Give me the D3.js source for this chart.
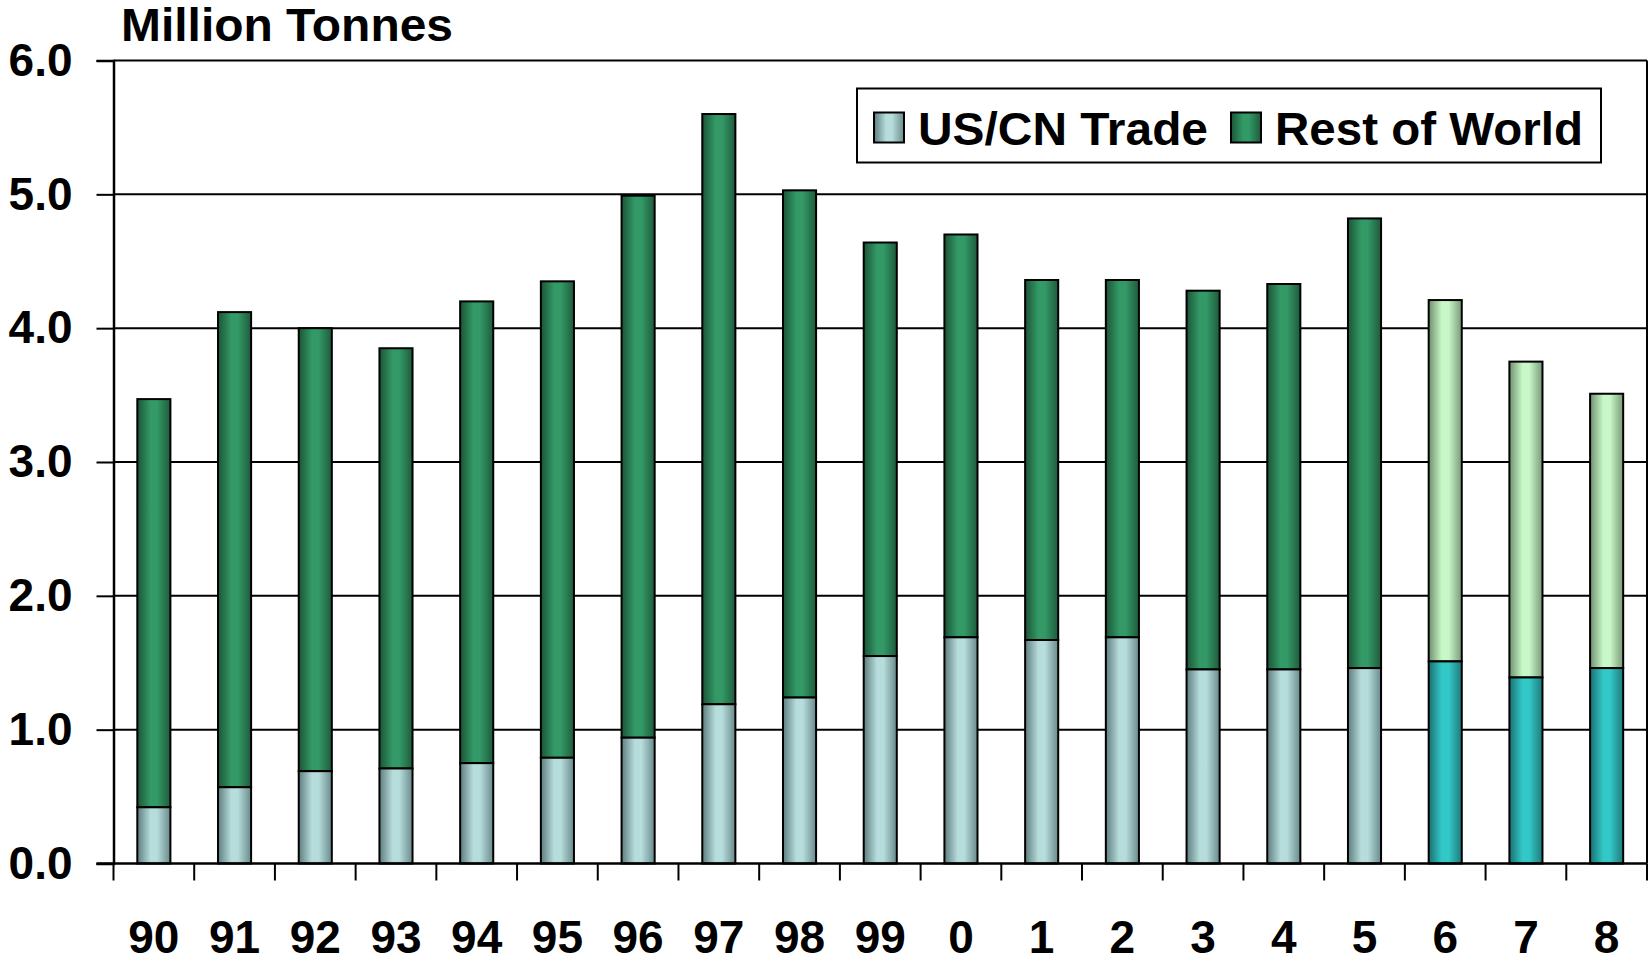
<!DOCTYPE html>
<html>
<head>
<meta charset="utf-8">
<script src="https://cdn.jsdelivr.net/npm/d3@7"></script>
<style>
  body { margin: 0; background: #fff; }
  text { font-family: "Liberation Sans", Arial, sans-serif; font-weight: bold; }
</style>
</head>
<body>
<div id="box"></div>
<script>
  // years on the x axis (two-digit / one-digit labels as in the original)
  var years = ["90", "91", "92", "93", "94", "95", "96", "97", "98", "99",
               "0", "1", "2", "3", "4", "5", "6", "7", "8"];
  var forecastYears = ["6", "7", "8"];

  // million tonnes
  var usCnTrade = [0.42, 0.57, 0.69, 0.71, 0.75, 0.79, 0.94, 1.19, 1.24, 1.55,
                   1.69, 1.67, 1.69, 1.45, 1.45, 1.46, 1.51, 1.39, 1.46];
  var restOfWorld = [3.05, 3.55, 3.31, 3.14, 3.45, 3.56, 4.05, 4.41, 3.79, 3.09,
                     3.01, 2.69, 2.67, 2.83, 2.88, 3.36, 2.70, 2.36, 2.05];

  var seriesNames = ["US/CN Trade", "Rest of World"];
  var yTicks = [0, 1, 2, 3, 4, 5, 6];

  var width = 1648;
  var height = 963;
  var plotL = 113.5, plotR = 1647, plotT = 60.5, plotB = 863.5;

  var svg = d3.select("#box").append("svg")
    .attr("width", width)
    .attr("height", height);

  // gradients, dark edges and light middle like the old office shading
  var shades = {
    usCn:  ["#5f7d7d", "#b6dcdc", "#6a8a8a"],
    row:   ["#1b5436", "#339966", "#1e5a3c"],
    usCnF: ["#1a7070", "#33c8c8", "#1f7a7a"],
    rowF:  ["#6f8f6f", "#c8f8c8", "#7a987a"]
  };
  var defs = svg.append("defs");
  Object.keys(shades).forEach(function(k) {
    var g = defs.append("linearGradient")
      .attr("id", "g_" + k)
      .attr("x1", 0).attr("x2", 1).attr("y1", 0).attr("y2", 0);
    g.append("stop").attr("offset", "0%").attr("stop-color", shades[k][0]);
    g.append("stop").attr("offset", "40%").attr("stop-color", shades[k][1]);
    g.append("stop").attr("offset", "60%").attr("stop-color", shades[k][1]);
    g.append("stop").attr("offset", "100%").attr("stop-color", shades[k][2]);
  });

  var x = d3.scaleBand()
    .domain(years)
    .range([plotL, plotR])
    .paddingInner(0.59)
    .paddingOuter(0.295);

  var y = d3.scaleLinear()
    .domain([0, 6])
    .range([plotB, plotT]);

  // gridlines
  svg.append("g").selectAll("line")
    .data(yTicks.filter(function(d) { return d > 0; }))
    .enter().append("line")
    .attr("x1", plotL).attr("x2", plotR)
    .attr("y1", function(d) { return y(d); })
    .attr("y2", function(d) { return y(d); })
    .attr("stroke", "#000")
    .attr("stroke-width", 2);

  // right border of plot area
  svg.append("line")
    .attr("x1", plotR).attr("x2", plotR)
    .attr("y1", y(6)).attr("y2", y(0))
    .attr("stroke", "#000").attr("stroke-width", 2);

  // bars
  var stack = years.map(function(yr, i) {
    return { year: yr, us: usCnTrade[i], row: restOfWorld[i],
             f: forecastYears.indexOf(yr) >= 0 };
  });

  var bars = svg.append("g").selectAll("g")
    .data(stack)
    .enter().append("g");

  bars.append("rect")
    .attr("x", function(d) { return x(d.year); })
    .attr("width", x.bandwidth())
    .attr("y", function(d) { return y(d.us + d.row); })
    .attr("height", function(d) { return y(d.us) - y(d.us + d.row); })
    .attr("fill", function(d) { return d.f ? "url(#g_rowF)" : "url(#g_row)"; })
    .attr("stroke", "#000")
    .attr("stroke-width", 2);

  bars.append("rect")
    .attr("x", function(d) { return x(d.year); })
    .attr("width", x.bandwidth())
    .attr("y", function(d) { return y(d.us); })
    .attr("height", function(d) { return y(0) - y(d.us); })
    .attr("fill", function(d) { return d.f ? "url(#g_usCnF)" : "url(#g_usCn)"; })
    .attr("stroke", "#000")
    .attr("stroke-width", 2);

  // y axis
  var yAxis = svg.append("g")
    .attr("transform", "translate(" + plotL + ",0)")
    .call(d3.axisLeft(y)
      .tickValues(yTicks)
      .tickFormat(d3.format(".1f"))
      .tickSize(17)
      .tickPadding(24));
  yAxis.select(".domain").attr("stroke-width", 2.5);
  yAxis.selectAll(".tick line").attr("stroke-width", 2);
  yAxis.selectAll("text")
    .attr("font-size", 46)
    .attr("fill", "#000")
    .attr("font-family", "Liberation Sans, Arial, sans-serif")
    .attr("font-weight", "bold");

  // x axis: labels centred in bands, ticks at band edges
  var xAxis = svg.append("g")
    .attr("transform", "translate(0," + plotB + ")")
    .call(d3.axisBottom(x).tickSize(0).tickPadding(57));
  xAxis.select(".domain").remove();
  xAxis.selectAll("text")
    .attr("font-size", 46)
    .attr("fill", "#000")
    .attr("font-family", "Liberation Sans, Arial, sans-serif")
    .attr("font-weight", "bold");

  svg.append("line")
    .attr("x1", plotL - 17).attr("x2", plotR)
    .attr("y1", plotB).attr("y2", plotB)
    .attr("stroke", "#000").attr("stroke-width", 2.5);

  var edges = d3.range(years.length + 1).map(function(i) {
    return plotL + i * x.step();
  });
  svg.append("g").selectAll("line")
    .data(edges)
    .enter().append("line")
    .attr("x1", function(d) { return d; })
    .attr("x2", function(d) { return d; })
    .attr("y1", plotB).attr("y2", plotB + 17)
    .attr("stroke", "#000").attr("stroke-width", 2);

  // unit title
  svg.append("text")
    .attr("x", 121)
    .attr("y", 41)
    .attr("font-size", 46)
    .attr("textLength", 332)
    .attr("lengthAdjust", "spacingAndGlyphs")
    .text("Million Tonnes");

  // legend
  var legend = svg.append("g");
  legend.append("rect")
    .attr("x", 857).attr("y", 88.5)
    .attr("width", 744).attr("height", 74)
    .attr("fill", "#fff")
    .attr("stroke", "#000").attr("stroke-width", 2);

  var legendX = [874, 1231];
  var legendW = [290, 308];
  var legendFill = ["url(#g_usCn)", "url(#g_row)"];
  var items = legend.selectAll("g.item")
    .data(seriesNames)
    .enter().append("g")
    .attr("class", "item")
    .attr("transform", function(d, i) { return "translate(" + legendX[i] + ",0)"; });
  items.append("rect")
    .attr("x", 0).attr("y", 112.5)
    .attr("width", 30).attr("height", 30)
    .attr("fill", function(d, i) { return legendFill[i]; })
    .attr("stroke", "#000").attr("stroke-width", 2);
  items.append("text")
    .attr("x", 44).attr("y", 145)
    .attr("font-size", 47)
    .attr("textLength", function(d, i) { return legendW[i]; })
    .attr("lengthAdjust", "spacingAndGlyphs")
    .text(function(d) { return d; });
</script>
</body>
</html>
